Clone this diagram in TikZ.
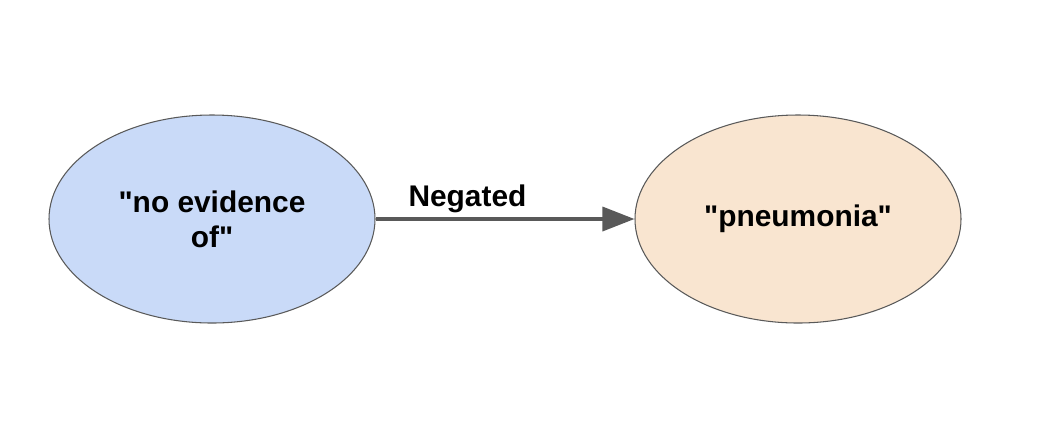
\documentclass[tikz,border=0pt]{standalone}
\usepackage{fontspec}
\setmainfont{Liberation Sans}[Ligatures=TeXOff]
\usetikzlibrary{shapes.geometric,arrows.meta}
\definecolor{blobblue}{HTML}{C9DAF8}
\definecolor{blobpeach}{HTML}{F9E5D0}
\definecolor{edgegray}{HTML}{595959}
\begin{document}
\begin{tikzpicture}[
    blob/.style={
        ellipse,
        draw=edgegray,
        line width=0.6pt,
        minimum width=6.52cm,
        minimum height=4.16cm,
        align=center,
        font=\fontsize{17}{20}\selectfont\bfseries
    },
    relation/.style={
        draw=edgegray,
        line width=2pt,
        -{Triangle[length=0.64cm,width=0.48cm]}
    }
]
    \useasboundingbox (0,0) rectangle (21.28,-8.48);

    \coordinate (p) at (4.24,-4.38);
    \node[blob, fill=blobblue] (cue) at (p) {"no evidence\\of"};

    \coordinate (p) at (15.96,-4.38);
    \node[blob, fill=blobpeach] (finding) at (p) {"pneumonia"};

    \draw[relation] (cue) -- (finding)
        node[pos=0.355, above=-1pt, font=\fontsize{17}{20}\selectfont\bfseries, text=black] (rel) {Negated};
\end{tikzpicture}
\end{document}
